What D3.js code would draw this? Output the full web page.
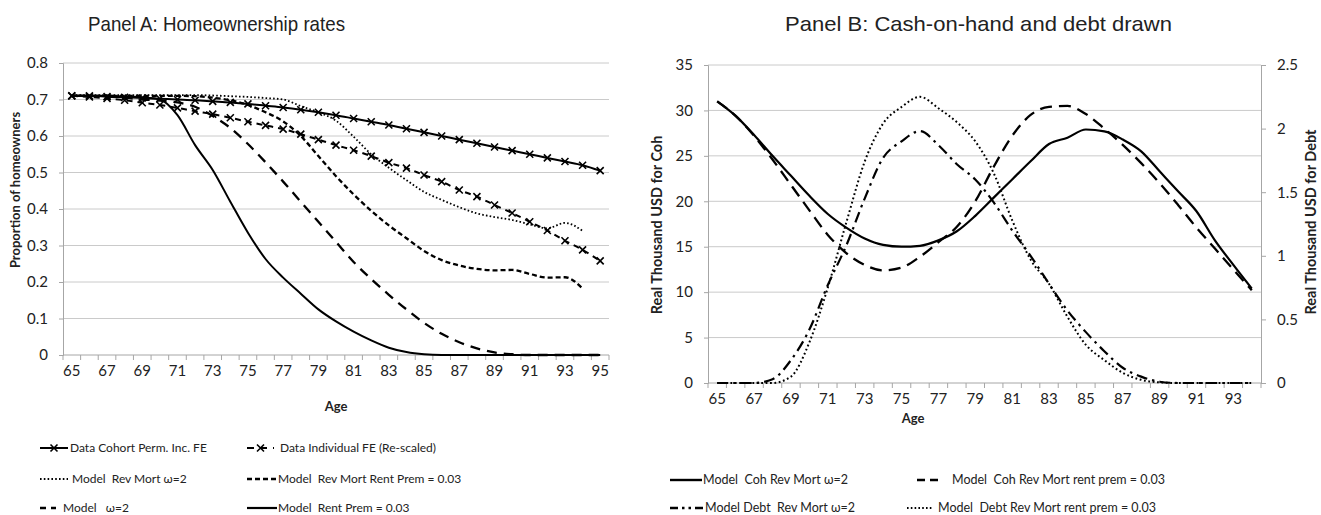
<!DOCTYPE html>
<html>
<head>
<meta charset="utf-8">
<script src="https://cdn.jsdelivr.net/npm/d3@7"></script>
<style>
body{margin:0;background:#fff;}
text{font-family:Lato,"Open Sans",sans-serif;fill:#222;}
.pre{white-space:pre;}
</style>
</head>
<body>
<svg id="chart" width="1321" height="515"></svg>
<script>
// Panel A data (ages 65-95)
const agesA = [65,66,67,68,69,70,71,72,73,74,75,76,77,78,79,80,81,82,83,84,85,86,87,88,89,90,91,92,93,94,95];
const cohortFE     = [0.710,0.710,0.708,0.706,0.704,0.702,0.700,0.698,0.695,0.692,0.688,0.683,0.678,0.672,0.665,0.657,0.648,0.639,0.630,0.620,0.610,0.600,0.590,0.580,0.570,0.560,0.550,0.540,0.530,0.520,0.505];
const individualFE = [0.710,0.707,0.703,0.698,0.691,0.685,0.677,0.668,0.660,0.650,0.639,0.629,0.619,0.605,0.590,0.575,0.561,0.545,0.527,0.512,0.493,0.475,0.452,0.434,0.411,0.389,0.365,0.341,0.313,0.288,0.258];
const revMortW2    = [0.712,0.712,0.712,0.712,0.712,0.712,0.712,0.712,0.711,0.709,0.707,0.704,0.700,0.682,0.665,0.642,0.598,0.550,0.513,0.479,0.447,0.425,0.405,0.388,0.378,0.370,0.358,0.347,0.362,0.340];
const revMortRent  = [0.710,0.710,0.710,0.710,0.710,0.710,0.710,0.709,0.705,0.698,0.685,0.665,0.640,0.600,0.545,0.490,0.440,0.395,0.355,0.320,0.285,0.260,0.245,0.236,0.232,0.233,0.222,0.212,0.213,0.182];
const modelW2      = [0.710,0.710,0.708,0.705,0.700,0.697,0.692,0.680,0.655,0.622,0.578,0.528,0.475,0.420,0.365,0.310,0.255,0.208,0.165,0.125,0.088,0.058,0.035,0.018,0.007,0.002,0,0,0,0,0];
const rentPrem     = [0.710,0.710,0.710,0.708,0.706,0.700,0.657,0.575,0.507,0.420,0.335,0.263,0.212,0.168,0.125,0.092,0.064,0.040,0.020,0.008,0.002,0,0,0,0,0,0,0,0,0,0];
const ticksA = [0,0.1,0.2,0.3,0.4,0.5,0.6,0.7,0.8];

// Panel B data (ages 65-94)
const agesB = [65,66,67,68,69,70,71,72,73,74,75,76,77,78,79,80,81,82,83,84,85,86,87,88,89,90,91,92,93,94];
const cohRevMort   = [31.0,29.4,27.3,25.0,22.8,20.6,18.6,17.1,15.9,15.2,15.0,15.1,15.7,16.7,18.4,20.4,22.4,24.4,26.3,27.0,27.9,27.7,26.8,25.5,23.3,21.1,18.9,15.7,13.0,10.4];
const cohRentPrem  = [31.0,29.4,27.2,24.6,21.8,19.0,16.3,14.3,13.0,12.4,12.7,13.9,15.5,17.2,20.0,23.8,27.2,29.5,30.4,30.5,29.6,28.0,26.2,24.2,22.0,19.6,17.1,14.8,12.5,10.2];
const debtRevMort  = [0,0,0,0.03,0.18,0.42,0.77,1.08,1.45,1.77,1.90,1.98,1.87,1.72,1.60,1.42,1.20,1.00,0.78,0.57,0.40,0.25,0.12,0.05,0.01,0,0,0,0,0];
const debtRentPrem = [0,0,0,0,0.05,0.32,0.75,1.26,1.74,2.04,2.17,2.25,2.16,2.05,1.90,1.65,1.28,0.97,0.78,0.52,0.30,0.18,0.08,0.025,0.005,0,0,0,0,0];
const ticksBL = [0,5,10,15,20,25,30,35];
const ticksBR = [0,0.5,1,1.5,2,2.5];

const svg = d3.select("#chart");
const axisCol = "#a6a6a6", gridCol = "#cacaca";

function xMarks(g, pts, fx, fy){
  g.selectAll(null).data(pts).enter().append("path")
    .attr("d","M-3.5,-3.5L3.5,3.5M-3.5,3.5L3.5,-3.5")
    .attr("transform",d=>"translate("+fx(d)+","+fy(d)+")")
    .attr("stroke","#000").attr("stroke-width",1.6).attr("fill","none");
}
function styleAxis(g){
  g.select(".domain").attr("stroke",axisCol);
  g.selectAll(".tick line").attr("stroke",axisCol);
  g.selectAll(".tick text").style("font-size","15px").attr("fill","#333");
}

// ---------- Panel A ----------
const xA = d3.scaleBand().domain(agesA).range([63,609]);
const yA = d3.scaleLinear().domain([0,0.8]).range([355,63]);
const cxA = a => xA(a)+xA.bandwidth()/2;

svg.append("g").selectAll("line").data(ticksA.slice(1)).enter().append("line")
  .attr("x1",63).attr("x2",609).attr("y1",d=>yA(d)).attr("y2",d=>yA(d))
  .attr("stroke",gridCol);

svg.append("g").attr("transform","translate(63,0)")
  .call(d3.axisLeft(yA).tickValues(ticksA).tickSize(4).tickPadding(11).tickFormat(d3.format("")))
  .call(styleAxis);

const axA = svg.append("g").attr("transform","translate(0,355)")
  .call(d3.axisBottom(xA).tickValues(agesA.filter((d,i)=>i%2==0)).tickSize(0).tickPadding(10))
  .call(styleAxis);
axA.select(".domain").remove();
svg.append("line").attr("x1",63).attr("x2",609).attr("y1",355).attr("y2",355).attr("stroke",axisCol);
svg.append("g").selectAll("line").data(agesA.concat([null])).enter().append("line")
  .attr("x1",(d,i)=>63+i*xA.bandwidth()).attr("x2",(d,i)=>63+i*xA.bandwidth())
  .attr("y1",355).attr("y2",360).attr("stroke",axisCol);

const seriesA = [
  {vals:cohortFE, dash:null, w:2, marks:true},
  {vals:individualFE, dash:"6,5", w:2, marks:true},
  {vals:revMortW2, dash:"1.6,2.2", w:1.8},
  {vals:revMortRent, dash:"5,3", w:2.3},
  {vals:modelW2, dash:"10,7", w:2.3},
  {vals:rentPrem, dash:null, w:2}
];
const lineA = d3.line().x(d=>cxA(d.a)).y(d=>yA(d.v)).curve(d3.curveMonotoneX);
seriesA.forEach(s=>{
  const pts = s.vals.map((v,i)=>({a:agesA[i],v:v}));
  svg.append("path").datum(pts).attr("d",lineA).attr("fill","none")
    .attr("stroke","#000").attr("stroke-width",s.w)
    .attr("stroke-dasharray",s.dash);
  if(s.marks) xMarks(svg.append("g"),pts,d=>cxA(d.a),d=>yA(d.v));
});

svg.append("text").attr("transform","translate(17,190) rotate(-90)")
  .attr("text-anchor","middle").attr("dominant-baseline","middle")
  .style("font-size","13px").style("font-weight","bold").attr("fill","#000")
  .text("Proportion of homeowners");
svg.append("text").attr("x",336).attr("y",411).attr("text-anchor","middle")
  .style("font-size","13px").style("font-weight","bold").attr("fill","#000").text("Age");
svg.append("text").attr("x",88).attr("y",31).attr("textLength",257).attr("lengthAdjust","spacingAndGlyphs")
  .style("font-family","'Liberation Sans',Arial,sans-serif").style("font-size","21px").attr("fill","#000")
  .text("Panel A: Homeownership rates");

// legend A
const legA = [
  {x:40, x2:68, tx:70, y:448, dash:null, w:2, mark:true, label:"Data Cohort Perm. Inc. FE"},
  {x:247, x2:274, tx:280, y:448, dash:"7,6", w:2, mark:true, label:"Data Individual FE (Re-scaled)"},
  {x:40, x2:68, tx:72, y:479, dash:"1.6,2.2", w:1.8, label:"Model  Rev Mort \u03c9=2"},
  {x:247, x2:277, tx:278, y:479, dash:"5,3", w:2.3, label:"Model  Rev Mort Rent Prem = 0.03"},
  {x:40, x2:56, tx:63, y:508, dash:"6,5", w:2.5, label:"Model   \u03c9=2"},
  {x:247, x2:277, tx:278, y:508, dash:null, w:2.2, label:"Model  Rent Prem = 0.03"}
];
legA.forEach(l=>{
  svg.append("line").attr("x1",l.x).attr("x2",l.x2).attr("y1",l.y).attr("y2",l.y)
    .attr("stroke","#000").attr("stroke-width",l.w).attr("stroke-dasharray",l.dash);
  if(l.mark) xMarks(svg.append("g"),[0],()=> (l.x+l.x2)/2,()=>l.y);
  svg.append("text").attr("class","pre").attr("x",l.tx).attr("y",l.y).attr("dy","0.35em")
    .style("font-size","12px").attr("fill","#000").text(l.label);
});

// ---------- Panel B ----------
const xB = d3.scaleBand().domain(agesB).range([708,1261]);
const yBL = d3.scaleLinear().domain([0,35]).range([383,65]);
const yBR = d3.scaleLinear().domain([0,2.5]).range([383,65]);
const cxB = a => xB(a)+xB.bandwidth()/2;

svg.append("g").selectAll("line").data(ticksBL.slice(1)).enter().append("line")
  .attr("x1",708).attr("x2",1261).attr("y1",d=>yBL(d)).attr("y2",d=>yBL(d))
  .attr("stroke",gridCol);

svg.append("g").attr("transform","translate(708,0)")
  .call(d3.axisLeft(yBL).tickValues(ticksBL).tickSize(4).tickPadding(11))
  .call(styleAxis);
svg.append("g").attr("transform","translate(1261,0)")
  .call(d3.axisRight(yBR).tickValues(ticksBR).tickSize(5).tickPadding(11).tickFormat(d3.format("")))
  .call(styleAxis);

const axB = svg.append("g").attr("transform","translate(0,383)")
  .call(d3.axisBottom(xB).tickValues(agesB.filter((d,i)=>i%2==0)).tickSize(0).tickPadding(10))
  .call(styleAxis);
axB.select(".domain").remove();
svg.append("line").attr("x1",708).attr("x2",1261).attr("y1",383).attr("y2",383).attr("stroke",axisCol);
svg.append("g").selectAll("line").data(agesB.concat([null])).enter().append("line")
  .attr("x1",(d,i)=>708+i*xB.bandwidth()).attr("x2",(d,i)=>708+i*xB.bandwidth())
  .attr("y1",383).attr("y2",388).attr("stroke",axisCol);

const seriesB = [
  {vals:cohRevMort, y:yBL, dash:null, w:2.2},
  {vals:cohRentPrem, y:yBL, dash:"12,7", w:2.3},
  {vals:debtRevMort, y:yBR, dash:"11,5,2.5,5", w:2.2},
  {vals:debtRentPrem, y:yBR, dash:"1.8,2.6", w:2}
];
seriesB.forEach(s=>{
  const pts = s.vals.map((v,i)=>({a:agesB[i],v:v}));
  const ln = d3.line().x(d=>cxB(d.a)).y(d=>s.y(d.v)).curve(d3.curveMonotoneX);
  svg.append("path").datum(pts).attr("d",ln).attr("fill","none")
    .attr("stroke","#000").attr("stroke-width",s.w)
    .attr("stroke-dasharray",s.dash);
});

svg.append("text").attr("transform","translate(658,225) rotate(-90)")
  .attr("text-anchor","middle").attr("dominant-baseline","middle")
  .style("font-size","14.5px").style("font-weight","bold").attr("fill","#000")
  .text("Real Thousand USD for Coh");
svg.append("text").attr("transform","translate(1312,222) rotate(-90)")
  .attr("text-anchor","middle").attr("dominant-baseline","middle")
  .style("font-size","14.5px").style("font-weight","bold").attr("fill","#000")
  .text("Real Thousand USD for Debt");
svg.append("text").attr("x",913).attr("y",423).attr("text-anchor","middle")
  .style("font-size","13px").style("font-weight","bold").attr("fill","#000").text("Age");
svg.append("text").attr("x",785).attr("y",31).attr("textLength",387).attr("lengthAdjust","spacingAndGlyphs")
  .style("font-family","'Liberation Sans',Arial,sans-serif").style("font-size","21px").attr("fill","#000")
  .text("Panel B: Cash-on-hand and debt drawn");

// legend B
const legB = [
  {x:670, x2:702, tx:703, y:480, dash:null, w:2.4, label:"Model  Coh Rev Mort \u03c9=2"},
  {x:917, x2:938, tx:952, y:480, dash:"8,5", w:2.6, label:"Model  Coh Rev Mort rent prem = 0.03"},
  {x:670, x2:703, tx:705, y:508, dash:"8,4,2.5,4,2.5,4", w:2.4, label:"Model Debt  Rev Mort \u03c9=2"},
  {x:907, x2:932, tx:938, y:508, dash:"1.6,2.2", w:1.8, label:"Model  Debt Rev Mort rent prem = 0.03"}
];
legB.forEach(l=>{
  svg.append("line").attr("x1",l.x).attr("x2",l.x2).attr("y1",l.y).attr("y2",l.y)
    .attr("stroke","#000").attr("stroke-width",l.w).attr("stroke-dasharray",l.dash);
  svg.append("text").attr("class","pre").attr("x",l.tx).attr("y",l.y).attr("dy","0.35em")
    .style("font-size","12.5px").attr("fill","#000").text(l.label);
});
</script>
</body>
</html>
